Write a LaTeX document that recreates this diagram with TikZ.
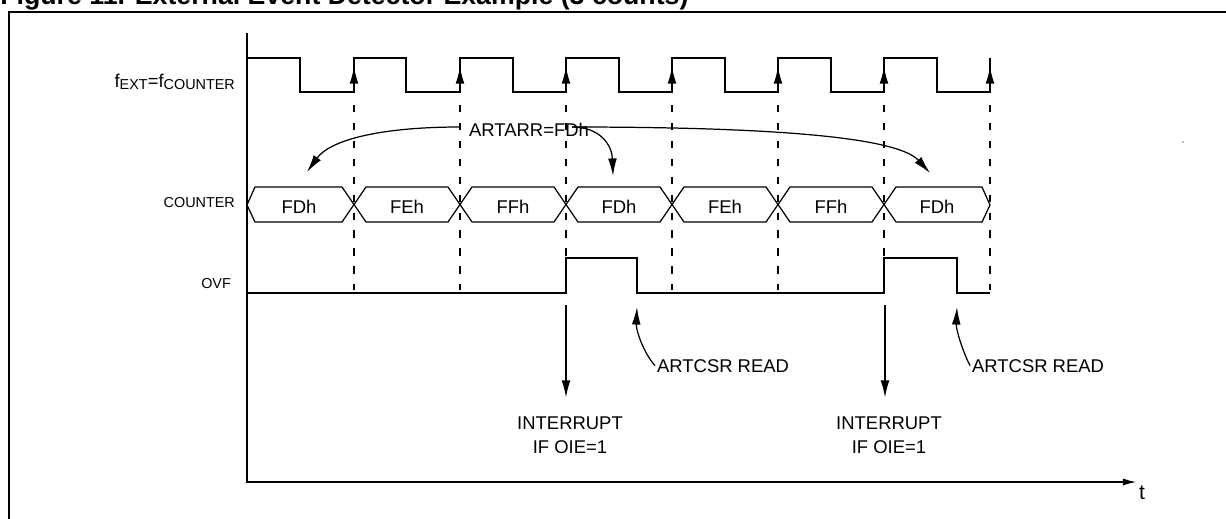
\documentclass[tikz,border=0pt]{standalone}
\usepackage{fontspec}
\setmainfont{Liberation Sans}
\usetikzlibrary{arrows.meta}
\newcommand{\sigsub}[1]{\raisebox{-1.6pt}{\fontsize{8.2}{10}\selectfont #1}}
\begin{document}
\begin{tikzpicture}[x=0.02cm, y=-0.02cm,
  wave/.style={line width=1.1pt},
  bus/.style={line width=0.7pt},
  guide/.style={line width=1.2pt, dash pattern=on 4.2pt off 6pt},
  tip/.style={-{Latex[length=10pt,width=5pt]}},
  lbl/.style={font=\fontsize{10.5}{13.6}\selectfont, inner sep=1pt},
  signame/.style={font=\fontsize{8.2}{10}\selectfont, inner sep=1pt, anchor=base east}]
\useasboundingbox (0,0) rectangle (1226,518);
% frame and title
\node[anchor=base west, inner sep=0pt, font=\bfseries\fontsize{15.2}{18}\selectfont] (title) at (0,4) {Figure 11. External Event Detector Example (3 counts)};
\draw[wave] (9,560) -- (9,12) -- (1260,12);
\fill (1183,142) circle (0.7);
% axes
\node[lbl, anchor=base west, font=\fontsize{12}{14}\selectfont] (t) at (1137,499) {t};
\draw[wave, -{Latex[length=8pt,width=4pt]}] (247,33) -- (247,482) -- (t.west |- 0,482);
% signal names
\node[lbl, anchor=base east] (fext) at (237,87) {f\sigsub{EXT}=f\sigsub{COUNTER}};
\node[signame] (counter) at (237,207) {COUNTER};
\node[signame] (ovf) at (233,288) {OVF};
% clock
\draw[wave] (247,58) -- (300,58) -- (300,92) -- (354,92) -- (354,58) -- (406,58) -- (406,92)
    -- (460,92) -- (460,58) -- (513,58) -- (513,92) -- (566,92) -- (566,58) -- (619,58)
    -- (619,92) -- (672,92) -- (672,58) -- (725,58) -- (725,92) -- (778,92) -- (778,58)
    -- (831,58) -- (831,92) -- (884,92) -- (884,58) -- (937,58) -- (937,92) -- (990,92) -- (990,58);
\draw[wave, tip] (354,90) -- (354,66);
\draw[wave, tip] (460,90) -- (460,66);
\draw[wave, tip] (566,90) -- (566,66);
\draw[wave, tip] (672,90) -- (672,66);
\draw[wave, tip] (778,90) -- (778,66);
\draw[wave, tip] (884,90) -- (884,66);
\draw[wave, tip] (990,90) -- (990,66);
% dashed guides
\draw[guide] (354,105) -- (354,290);
\draw[guide] (460,105) -- (460,290);
\draw[guide] (566,105) -- (566,260);
\draw[guide] (672,105) -- (672,290);
\draw[guide] (778,105) -- (778,290);
\draw[guide] (884,105) -- (884,260);
\draw[guide] (990,105) -- (990,290);
% counter bus
\draw[bus] (247,205) -- (255,187) -- (342,187) -- (366,222) -- (448,222) -- (472,187) -- (554,187)
    -- (578,222) -- (660,222) -- (684,187) -- (766,187) -- (790,222) -- (872,222) -- (896,187)
    -- (982,187) -- (990,205);
\draw[bus] (247,205) -- (255,222) -- (342,222) -- (366,187) -- (448,187) -- (472,222) -- (554,222)
    -- (578,187) -- (660,187) -- (684,222) -- (766,222) -- (790,187) -- (872,187) -- (896,222)
    -- (982,222) -- (990,205);
\node[lbl, anchor=base] (c1) at (299,213) {FDh};
\node[lbl, anchor=base] (c2) at (407,213) {FEh};
\node[lbl, anchor=base] (c3) at (513,213) {FFh};
\node[lbl, anchor=base] (c4) at (619,213) {FDh};
\node[lbl, anchor=base] (c5) at (725,213) {FEh};
\node[lbl, anchor=base] (c6) at (831,213) {FFh};
\node[lbl, anchor=base] (c7) at (937,213) {FDh};
% reload value
\node[lbl, anchor=base west] (artarr) at (467,136) {ARTARR=FDh};
\coordinate (split) at (572,127);
\coordinate (a1) at (307,172);
\coordinate (a4) at (613,176);
\coordinate (a7) at (930,173);
\draw[bus, tip] (460,127) .. controls (380,127) and (330,140) .. (a1);
\draw[bus, tip] (split) .. controls (600,127) and (612,145) .. (a4);
\draw[bus, tip] (split) .. controls (800,127) and (900,140) .. (a7);
% overflow flag
\draw[wave] (247,293) -- (566,293) -- (566,258) -- (637,258) -- (637,293) -- (884,293)
    -- (884,258) -- (957,258) -- (957,293) -- (990,293);
\coordinate (i1) at (566,305);
\coordinate (i2) at (885,305);
\node[lbl, align=center, anchor=north] (int1) at (570,415) {INTERRUPT\\IF OIE=1};
\node[lbl, align=center, anchor=north] (int2) at (889,415) {INTERRUPT\\IF OIE=1};
\draw[wave, tip] (i1) -- ++(0,93);
\draw[wave, tip] (i2) -- ++(0,93);
\node[lbl, anchor=base west] (read1) at (655,372) {ARTCSR READ};
\node[lbl, anchor=base west] (read2) at (970,372) {ARTCSR READ};
\coordinate (f1) at (637,307);
\coordinate (f2) at (957,307);
\draw[bus, tip] (read1.west) .. controls (643,352) and (636,330) .. (f1);
\draw[bus, tip] (read2.west) .. controls (963,352) and (956,330) .. (f2);
\end{tikzpicture}
\end{document}
